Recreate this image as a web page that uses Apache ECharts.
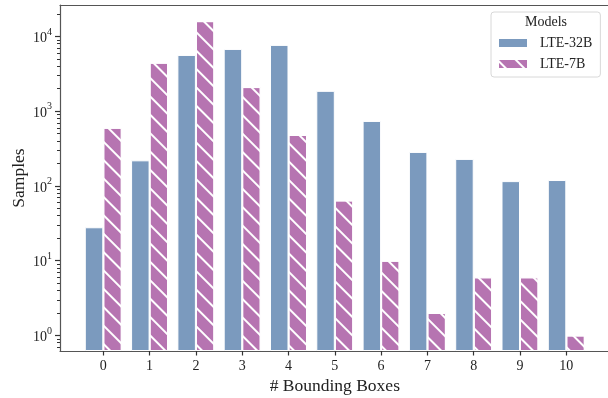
<!DOCTYPE html>
<html>
<head>
<meta charset="utf-8">
<script src="https://cdn.jsdelivr.net/npm/echarts@6/dist/echarts.min.js"></script>
<style>
html,body{margin:0;padding:0;background:#fff;}
#c{width:608px;height:398px;}
</style>
</head>
<body>
<div id="c"></div>
<script>
// ---- data ----
const categories = ['0','1','2','3','4','5','6','7','8','9','10'];
const seriesNames = ['LTE-32B', 'LTE-7B'];
const lte32b = [28, 220, 5650, 6800, 7700, 1870, 740, 285, 230, 116, 120];
const lte7b  = [600, 4450, 16000, 2100, 480, 64, 10, 2, 6, 6, 1];
const yMajorTicks = [1, 10, 100, 1000, 10000];
const legendTitle = 'Models';
const xName = '# Bounding Boxes';
const yName = 'Samples';

const FONT = 'Liberation Serif';
const SPINE = '#555';
const TICK = '#333';
const BLUE = '#7b9abe';
const PURPLE = '#b674b1';
const Y_MIN = 0.62, Y_MAX = 26300;

const yMinorTicks = [];
for (let e = -1; e <= 4; e++) {
  for (let m = 2; m <= 9; m++) {
    const v = m * Math.pow(10, e);
    if (v > Y_MIN && v < Y_MAX) yMinorTicks.push(+v.toPrecision(3));
  }
}
const xTicks = categories.map((c, i) => i);

const chart = echarts.init(document.getElementById('c'), null, {renderer: 'canvas'});
const option = {
  animation: false,
  backgroundColor: '#fff',
  textStyle: {fontFamily: FONT},
  title: {
    text: legendTitle,
    left: 546, top: 15,
    textAlign: 'center',
    textStyle: {fontFamily: FONT, fontSize: 14, fontWeight: 'normal', color: '#222'},
    padding: 0
  },
  legend: {
    data: seriesNames,
    orient: 'vertical',
    left: 491, top: 12,
    padding: [24, 8, 6, 6],
    itemGap: 7,
    itemWidth: 30, itemHeight: 10,
    icon: 'rect',
    borderColor: '#d8d8d8', borderWidth: 1, borderRadius: 3,
    backgroundColor: 'rgba(255,255,255,0.85)',
    textStyle: {fontFamily: FONT, fontSize: 14, color: '#222', padding: [0,0,0,7]}
  },
  grid: {
    left: 60, top: 5, right: -1.6, bottom: 47,
    outerBoundsMode: 'none',
    show: false
  },
  xAxis: [{
    type: 'value',
    min: -0.935, max: 10.935,
    position: 'bottom',
    name: xName, nameLocation: 'middle', nameGap: 26,
    nameTextStyle: {fontFamily: FONT, fontSize: 17.5, color: '#222'},
    axisLine: {show: true, onZero: false, lineStyle: {color: SPINE, width: 1.2}},
    axisTick: {show: true, length: 4.5, lineStyle: {color: TICK, width: 1.2}, customValues: xTicks},
    axisLabel: {
      customValues: xTicks, margin: 8,
      fontFamily: FONT, fontSize: 14, color: '#222',
      formatter: v => categories[Math.round(v)]
    },
    splitLine: {show: false}
  }, {
    type: 'value',
    min: -0.935, max: 10.935,
    position: 'top',
    axisLine: {show: true, onZero: false, lineStyle: {color: SPINE, width: 1.2}},
    axisTick: {show: false},
    axisLabel: {show: false},
    splitLine: {show: false}
  }],
  yAxis: [{
    type: 'log',
    min: Y_MIN, max: Y_MAX,
    startValue: Y_MIN,
    position: 'left',
    name: yName, nameLocation: 'middle', nameGap: 32,
    nameMoveOverlap: false,
    nameTextStyle: {fontFamily: FONT, fontSize: 17.5, color: '#222'},
    axisLine: {show: true, onZero: false, lineStyle: {color: SPINE, width: 1.2}},
    axisTick: {show: true, length: 5, lineStyle: {color: TICK, width: 1.2}, customValues: yMajorTicks},
    axisLabel: {
      customValues: yMajorTicks, margin: 8,
      formatter: v => '{b|10}{s|' + Math.round(Math.log10(v)) + '}',
      rich: {
        b: {fontFamily: FONT, fontSize: 14, color: '#222', padding: [4, 0, 0, 0]},
        s: {fontFamily: FONT, fontSize: 10, color: '#222', padding: [0, 0, 9, 0]}
      }
    },
    splitLine: {show: false}
  }, {
    type: 'log',
    min: Y_MIN, max: Y_MAX,
    position: 'left',
    axisLine: {show: false, onZero: false},
    axisTick: {show: true, length: 3, lineStyle: {color: TICK, width: 1}, customValues: yMinorTicks},
    axisLabel: {show: false},
    splitLine: {show: false}
  }],
  series: [{
    name: seriesNames[0],
    type: 'bar',
    xAxisIndex: 0, yAxisIndex: 0,
    barWidth: 18.5,
    barGap: '0%',
    data: lte32b.map((v, i) => [i, v]),
    itemStyle: {color: BLUE, borderColor: '#fff', borderWidth: 1}
  }, {
    name: seriesNames[1],
    type: 'bar',
    xAxisIndex: 0, yAxisIndex: 0,
    barWidth: 18.5,
    barGap: '0%',
    data: lte7b.map((v, i) => [i, v]),
    itemStyle: {
      color: PURPLE, borderColor: '#fff', borderWidth: 1,
      decal: {symbol: 'rect', color: '#fff', dashArrayX: [1, 0], dashArrayY: [1.4, 10.6], rotation: Math.PI / 4, symbolSize: 1}
    }
  }]
};
chart.setOption(option);
</script>
</body>
</html>
